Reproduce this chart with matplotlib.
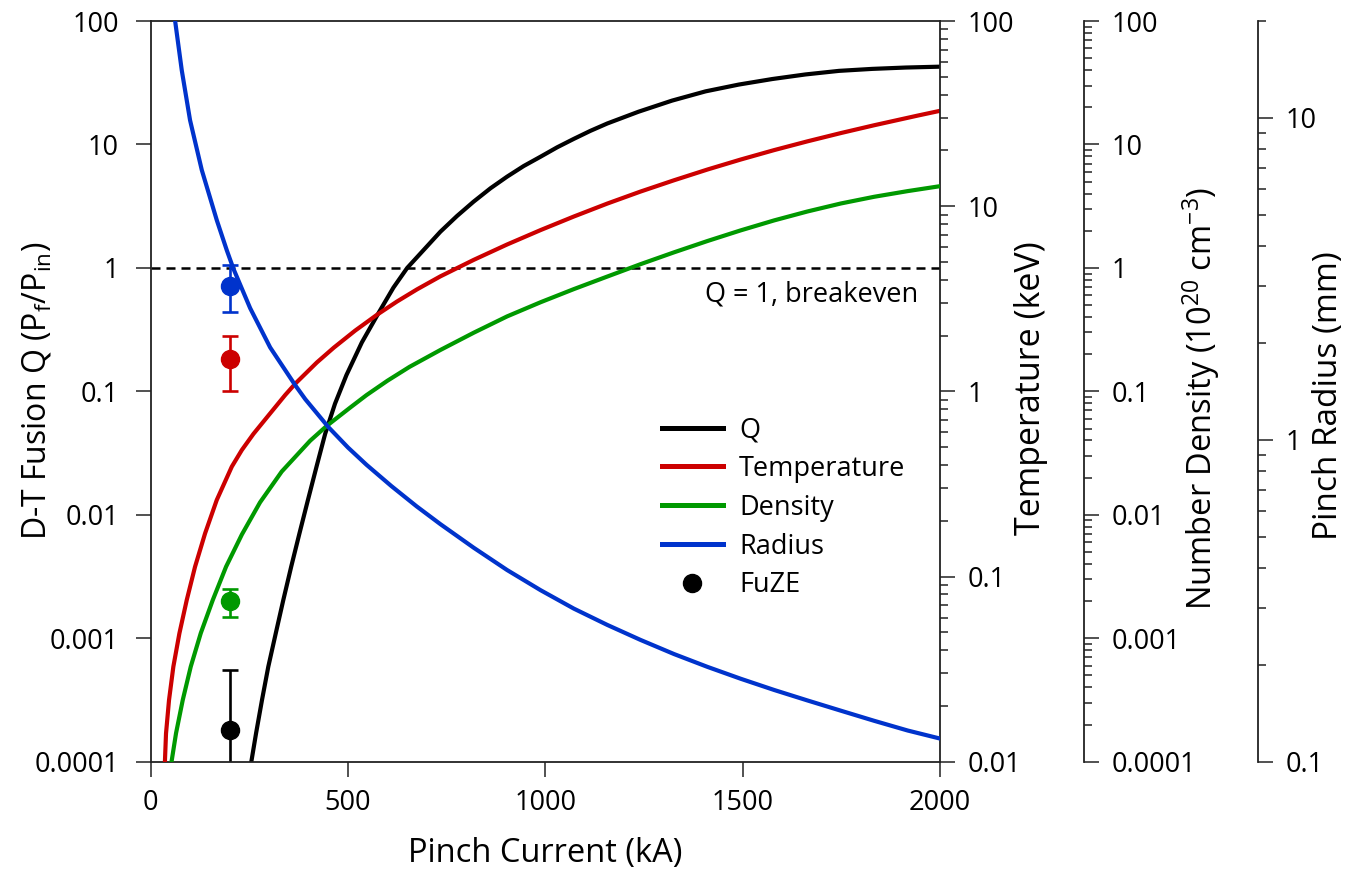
import matplotlib
matplotlib.use("Agg")
import matplotlib.pyplot as plt
import numpy as np
from matplotlib.lines import Line2D
from matplotlib.ticker import FixedLocator, FuncFormatter, MultipleLocator, NullFormatter

FONT = "Open Sans"
plt.rcParams["font.family"] = [FONT, "DejaVu Sans"]
plt.rcParams["mathtext.fontset"] = "custom"
plt.rcParams["mathtext.rm"] = FONT
plt.rcParams["mathtext.it"] = FONT + ":italic"
plt.rcParams["mathtext.default"] = "regular"

# --- data ----------------------------------------------------------------
q_current = [255, 267, 282, 298, 317, 336, 356, 377, 398, 421, 442, 467, 496, 535, 578,
             615, 650, 734, 776, 818, 861, 903, 945, 988, 1030, 1072, 1114, 1157, 1236,
             1321, 1406, 1490, 1575, 1659, 1744, 1828, 1913, 2000]
q_value = [1.0e-4, 1.70e-4, 3.16e-4, 5.89e-4, 1.10e-3, 2.04e-3, 3.80e-3, 7.08e-3,
           1.303e-2, 2.512e-2, 4.519e-2, 7.94e-2, 0.1355, 0.249, 0.435, 0.692, 1.0,
           1.963, 2.630, 3.436, 4.416, 5.483, 6.683, 7.962, 9.484, 11.09, 12.88, 14.79,
           18.41, 22.65, 26.92, 30.55, 33.88, 36.90, 39.45, 40.93, 41.98, 42.66]

t_current = [36, 38.8, 46.4, 57.4, 72.7, 91.3, 112.4, 137.8, 167.4, 205.5, 230.9, 260.3,
             298.4, 340.7, 367, 421, 464, 518, 573, 624, 675, 734, 818.5, 903, 988, 1072,
             1157, 1241, 1326, 1411, 1495, 1580, 1664, 1749, 1833, 1943, 2000]
t_kev = [0.0100, 0.0142, 0.0215, 0.0326, 0.0493, 0.0746, 0.113, 0.171, 0.259, 0.392,
         0.482, 0.589, 0.741, 0.955, 1.104, 1.432, 1.722, 2.128, 2.588, 3.055, 3.556,
         4.178, 5.129, 6.209, 7.430, 8.790, 10.33, 11.99, 13.80, 15.78, 17.86, 20.09,
         22.39, 24.83, 27.35, 30.83, 32.73]

n_current = [52.8, 64.2, 81.2, 101.5, 126.9, 157.3, 191, 231, 277, 332, 404, 446, 506,
             547, 600, 656, 734, 818.5, 903, 988, 1072, 1157, 1241, 1326, 1411, 1495,
             1580, 1664, 1749, 1833, 1918, 2000]
n_density = [1.0e-4, 1.70e-4, 3.16e-4, 5.89e-4, 1.10e-3, 2.04e-3, 3.80e-3, 6.92e-3,
             1.26e-2, 2.24e-2, 3.98e-2, 5.25e-2, 7.41e-2, 9.33e-2, 0.122, 0.158, 0.2163,
             0.2985, 0.4046, 0.5272, 0.6730, 0.8511, 1.0715, 1.3366, 1.6520, 2.0137,
             2.4266, 2.8642, 3.3266, 3.7670, 4.1879, 4.5920]

r_current = [61.7, 78.7, 99.7, 129.4, 167.5, 192.8, 209.6, 252, 302.7, 366, 391.7, 450,
             500, 547, 610, 674, 734, 818.5, 903, 988, 1072, 1157, 1241, 1326, 1411,
             1495, 1580, 1664, 1749, 1833, 1918, 2000]
r_mm = [20.09, 14.06, 9.84, 6.89, 4.81, 3.88, 3.40, 2.564, 1.936, 1.479, 1.337, 1.096,
        0.946, 0.836, 0.718, 0.621, 0.547, 0.462, 0.394, 0.341, 0.299, 0.266, 0.239,
        0.216, 0.197, 0.181, 0.167, 0.155, 0.144, 0.134, 0.125, 0.118]

# FuZE measurements at 200 kA: value, +/- error
fuze_current = 200
fuze_q, fuze_q_err = 1.8e-4, 3.7e-4
fuze_t, fuze_t_err = 1.5, 0.5
fuze_n, fuze_n_err = 2.0e-3, 0.5e-3
fuze_r, fuze_r_err = 3.0, 0.5

BLACK = "#000000"
RED = "#cc0000"
GREEN = "#009900"
BLUE = "#0033cc"
AXIS = "#222222"

W, H = 1349, 871
L, R, B, T = 150.7, 940.0, 761.7, 21.0

fig = plt.figure(figsize=(W / 100, H / 100), dpi=100)
ax = fig.add_axes([L / W, 1 - B / H, (R - L) / W, (B - T) / H])

TICK = dict(direction="out", length=11, width=1.1, labelsize=19.5, color=AXIS)
MINOR = dict(direction="out", length=6, width=1.1, color=AXIS)
fmt = FuncFormatter(lambda v, p: f"{v:g}")


def log_axis(a, lo_exp, hi, minor=True):
    """Log y axis from 10**lo_exp to hi, ticks only inside the range."""
    lo = 10.0 ** lo_exp
    a.set_yscale("log", nonpositive="clip")
    a.set_ylim(lo, hi)
    majors = [10.0 ** e for e in range(lo_exp, 4) if 10.0 ** e <= hi * 1.0001]
    a.yaxis.set_major_locator(FixedLocator(majors))
    a.yaxis.set_major_formatter(fmt)
    minors = [m * d for d in majors for m in range(2, 10) if m * d <= hi * 1.0001]
    a.yaxis.set_minor_locator(FixedLocator(minors if minor else []))
    a.yaxis.set_minor_formatter(NullFormatter())


# main axis: Q
log_axis(ax, -4, 100, minor=False)
ax.set_xlim(0, 2000)
ax.xaxis.set_major_locator(MultipleLocator(500))
ax.tick_params(axis="x", pad=9, **TICK)
ax.tick_params(axis="y", which="major", pad=12, left=True, right=False, **TICK)
for s in ax.spines.values():
    s.set_linewidth(1.3)
    s.set_color(AXIS)
ax.spines["right"].set_visible(False)

# temperature axis
ax_t = ax.twinx()
log_axis(ax_t, -2, 100)
# density axis
ax_n = ax.twinx()
log_axis(ax_n, -4, 100)
ax_n.spines["right"].set_position(("axes", (1084 - L) / (R - L)))
# radius axis
ax_r = ax.twinx()
log_axis(ax_r, -1, 20)
ax_r.spines["right"].set_position(("axes", (1258 - L) / (R - L)))

for a in (ax_t, ax_n, ax_r):
    for k in ("left", "top", "bottom"):
        a.spines[k].set_visible(False)
    a.spines["right"].set_linewidth(1.3)
    a.spines["right"].set_color(AXIS)
    a.tick_params(axis="y", which="major", pad=9, **TICK)
    a.tick_params(axis="y", which="minor", **MINOR)

# curves
ax.axhline(1, color=BLACK, lw=1.8, ls=(0, (3.6, 2.4)), zorder=1)
lq, = ax.plot(q_current, q_value, color=BLACK, lw=3.0)
lt, = ax_t.plot(t_current, t_kev, color=RED, lw=3.0)
ln, = ax_n.plot(n_current, n_density, color=GREEN, lw=3.0)
lr, = ax_r.plot(r_current, r_mm, color=BLUE, lw=3.0)

# FuZE points
EB = dict(fmt="o", markersize=13, elinewidth=1.9, capsize=6, capthick=1.9)
ax.errorbar([fuze_current], [fuze_q], yerr=[fuze_q_err], color=BLACK, **EB)
ax_t.errorbar([fuze_current], [fuze_t], yerr=[fuze_t_err], color=RED, **EB)
ax_n.errorbar([fuze_current], [fuze_n], yerr=[fuze_n_err], color=GREEN, **EB)
ax_r.errorbar([fuze_current], [fuze_r], yerr=[fuze_r_err], color=BLUE, **EB)

fig.text(918 / W, 1 - 301.5 / H, "Q = 1, breakeven", fontsize=19.5, ha="right", va="baseline")

# legend
handles = [lq, lt, ln, lr,
           Line2D([], [], marker="o", ls="none", color=BLACK, markersize=13)]
labels = ["Q", "Temperature", "Density", "Radius", "FuZE"]
leg = ax_r.legend(handles, labels, loc="upper left", bbox_to_anchor=(662 / W, 1 - 416 / H),
                  bbox_transform=fig.transFigure, frameon=False, fontsize=19.5,
                  handlelength=2.25, handletextpad=0.6, labelspacing=0.4, borderpad=0,
                  borderaxespad=0)
for h in leg.get_lines():
    h.set_linewidth(3.6)

# axis titles
LBL = 23.5
fig.text(545 / W, 1 - 853 / H, "Pinch Current (kA)", fontsize=LBL, ha="center", va="center")
fig.text(37 / W, 1 - 391 / H, "D-T Fusion Q (P$_\\mathregular{f}$/P$_\\mathregular{in}$)",
         fontsize=23, rotation=90, ha="center", va="center")
fig.text(1031 / W, 1 - 388 / H, "Temperature (keV)", fontsize=24.5, rotation=90,
         ha="center", va="center")
fig.text(1201 / W, 1 - 398 / H, "Number Density (10$^{20}$ cm$^{-3}$)", fontsize=LBL,
         rotation=90, ha="center", va="center")
fig.text(1329 / W, 1 - 396 / H, "Pinch Radius (mm)", fontsize=24, rotation=90,
         ha="center", va="center")

fig.savefig("out.png", dpi=100, facecolor="white")
